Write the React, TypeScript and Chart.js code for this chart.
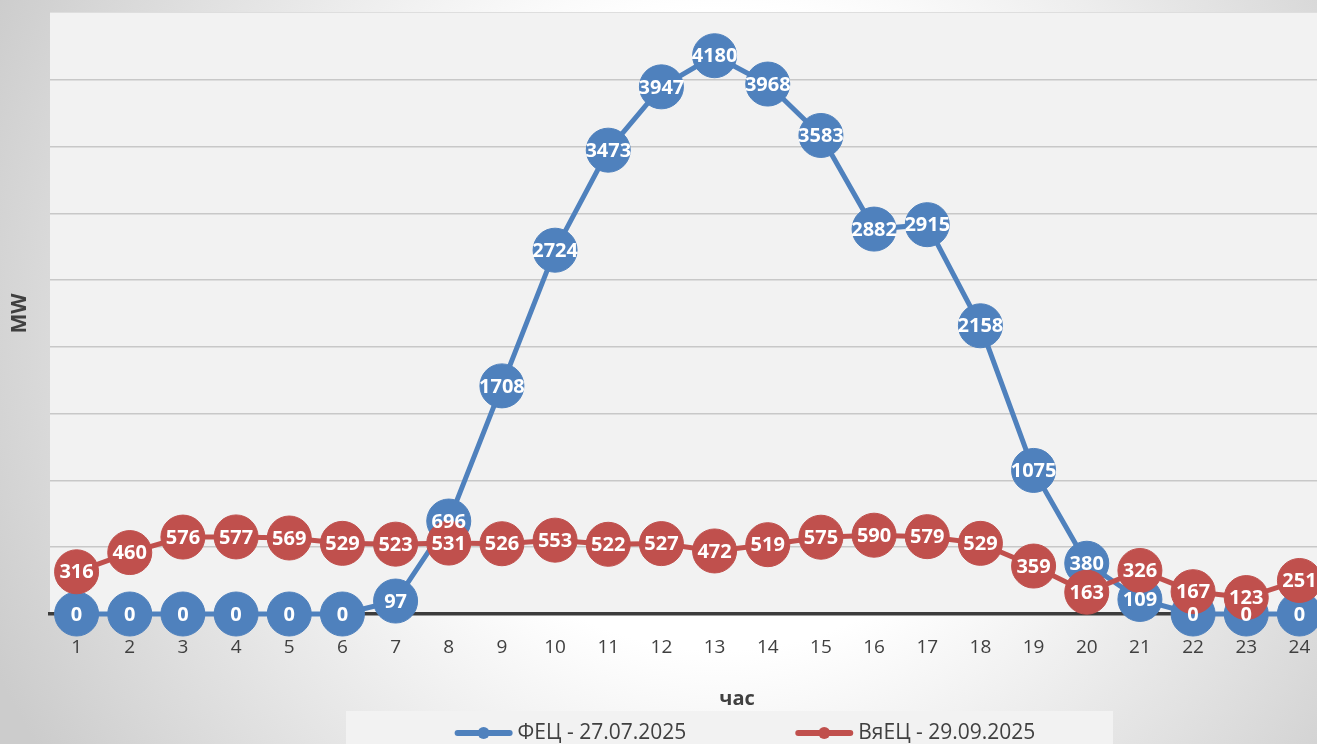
import React, { useEffect, useRef } from "react";
import { Chart, registerables } from "chart.js";

Chart.register(...registerables);

// Hourly output, MW
const hours = ["1", "2", "3", "4", "5", "6", "7", "8", "9", "10", "11", "12", "13", "14", "15", "16", "17", "18", "19", "20", "21", "22", "23", "24"];
const fecValues = [0, 0, 0, 0, 0, 0, 97, 696, 1708, 2724, 3473, 3947, 4180, 3968, 3583, 2882, 2915, 2158, 1075, 380, 109, 0, 0, 0];
const vyaecValues = [316, 460, 576, 577, 569, 529, 523, 531, 526, 553, 522, 527, 472, 519, 575, 590, 579, 529, 359, 163, 326, 167, 123, 251];

const fecLabel = "ФЕЦ - 27.07.2025";
const vyaecLabel = "ВяЕЦ - 29.09.2025";
const yAxisTitle = "MW";
const xAxisTitle = "час";
const yMax = 4500;
const yStep = 500;

const BLUE = "#4f81bd";
const RED = "#c0504d";
const TEXT = "#404040";
const FONT = "'Open Sans', 'Noto Sans', sans-serif";

// Soft radial backdrop plus the grey plot panel
const backdropPlugin = {
  id: "backdrop",
  beforeDraw(chart: any) {
    const { ctx, width, height, chartArea } = chart;
    ctx.save();
    const g = ctx.createRadialGradient(720, 330, 0, 720, 330, 800);
    g.addColorStop(0, "#ffffff");
    g.addColorStop(0.4, "#ffffff");
    g.addColorStop(1, "#cccccc");
    ctx.fillStyle = g;
    ctx.fillRect(0, 0, width, height);
    ctx.fillStyle = "#f2f2f2";
    ctx.fillRect(chartArea.left, chartArea.top, chartArea.right - chartArea.left, chartArea.bottom - chartArea.top);
    ctx.strokeStyle = "#dedede";
    ctx.lineWidth = 1;
    ctx.beginPath();
    ctx.moveTo(chartArea.left, chartArea.top - 0.5);
    ctx.lineTo(chartArea.right, chartArea.top - 0.5);
    ctx.stroke();
    ctx.restore();
  },
};

// White value labels centred on every point
const valueLabelPlugin = {
  id: "valueLabels",
  afterDatasetsDraw(chart: any) {
    const { ctx } = chart;
    ctx.save();
    ctx.font = `bold 20px ${FONT}`;
    ctx.fillStyle = "#ffffff";
    ctx.textAlign = "center";
    ctx.textBaseline = "middle";
    chart.data.datasets.forEach((ds: any, i: number) => {
      const meta = chart.getDatasetMeta(i);
      meta.data.forEach((pt: any, j: number) => {
        ctx.fillText(String(ds.data[j]), pt.x, pt.y + 1);
      });
    });
    ctx.restore();
  },
};

// Axis caption under the hours and the boxed legend at the bottom
const captionLegendPlugin = {
  id: "captionLegend",
  afterDraw(chart: any) {
    const { ctx } = chart;
    ctx.save();
    ctx.font = `bold 20px ${FONT}`;
    ctx.fillStyle = TEXT;
    ctx.textAlign = "center";
    ctx.textBaseline = "middle";
    ctx.fillText(xAxisTitle, 737, 699);

    ctx.fillStyle = "#f2f2f2";
    ctx.fillRect(346, 711, 767, 40);

    ctx.font = `21px ${FONT}`;
    const items = chart.data.datasets.map((ds: any) => ({ label: ds.label, color: ds.borderColor }));
    const marker = 58;
    const gap = 5;
    const spacing = 109;
    const widths = items.map((it: any) => ctx.measureText(it.label).width);
    let total = spacing * (items.length - 1);
    widths.forEach((w: number) => (total += marker + gap + w));
    let x = 745 - total / 2;
    const y = 733;
    items.forEach((it: any, i: number) => {
      ctx.strokeStyle = it.color;
      ctx.lineWidth = 6;
      ctx.lineCap = "round";
      ctx.beginPath();
      ctx.moveTo(x + 3, y);
      ctx.lineTo(x + marker - 3, y);
      ctx.stroke();
      ctx.fillStyle = it.color;
      ctx.beginPath();
      ctx.arc(x + marker / 2, y, 6, 0, Math.PI * 2);
      ctx.fill();
      ctx.fillStyle = TEXT;
      ctx.textAlign = "left";
      ctx.textBaseline = "middle";
      ctx.fillText(it.label, x + marker + gap, y);
      x += marker + gap + widths[i] + spacing;
    });
    ctx.restore();
  },
};

export default function App() {
  const canvasRef = useRef<HTMLCanvasElement>(null);

  useEffect(() => {
    const canvas = canvasRef.current;
    if (!canvas) return;
    const series = (label: string, data: number[], color: string, order: number) => ({
      label,
      data,
      borderColor: color,
      backgroundColor: color,
      pointBackgroundColor: color,
      pointBorderColor: color,
      borderWidth: 5,
      pointRadius: 22,
      pointBorderWidth: 1,
      tension: 0,
      clip: false,
      order,
    });
    const chart = new Chart(canvas, {
      type: "line",
      data: {
        labels: hours,
        datasets: [series(fecLabel, fecValues, BLUE, 1), series(vyaecLabel, vyaecValues, RED, 0)] as any,
      },
      options: {
        responsive: false,
        animation: false,
        events: [],
        layout: { autoPadding: false, padding: { top: 13, right: 0, bottom: 33, left: 0 } },
        plugins: {
          legend: { display: false },
          tooltip: { enabled: false },
        },
        scales: {
          x: {
            offset: true,
            grid: { display: false, drawTicks: false },
            border: { display: true, color: "#3c3c3c", width: 3.5 },
            ticks: {
              color: TEXT,
              font: { family: FONT, size: 19, lineHeight: 2.67 },
              padding: 8,
              maxRotation: 0,
              autoSkip: false,
            },
            afterFit: (s: any) => {
              s.height = 97;
            },
          },
          y: {
            min: 0,
            max: yMax,
            ticks: { display: false, stepSize: yStep },
            grid: {
              color: (c: any) => (c.tick && c.tick.value === yMax ? "rgba(0,0,0,0)" : "#c8c8c8"),
              lineWidth: 1.5,
              drawTicks: false,
            },
            border: { display: false },
            title: {
              display: true,
              text: yAxisTitle,
              color: TEXT,
              font: { family: FONT, size: 21, weight: "bold" },
              padding: { top: 7, bottom: 0 },
            },
            afterFit: (s: any) => {
              s.width = 50;
            },
          },
        },
      } as any,
      plugins: [backdropPlugin, valueLabelPlugin, captionLegendPlugin],
    });
    return () => chart.destroy();
  }, []);

  return (
    <div style={{ position: "fixed", left: 0, top: 0, width: 1317, height: 744, overflow: "hidden" }}>
      <div style={{ position: "absolute", left: 0, top: 0, width: 1326, height: 744 }}>
        <canvas ref={canvasRef} width={1326} height={744} style={{ display: "block", width: 1326, height: 744 }} />
      </div>
    </div>
  );
}
